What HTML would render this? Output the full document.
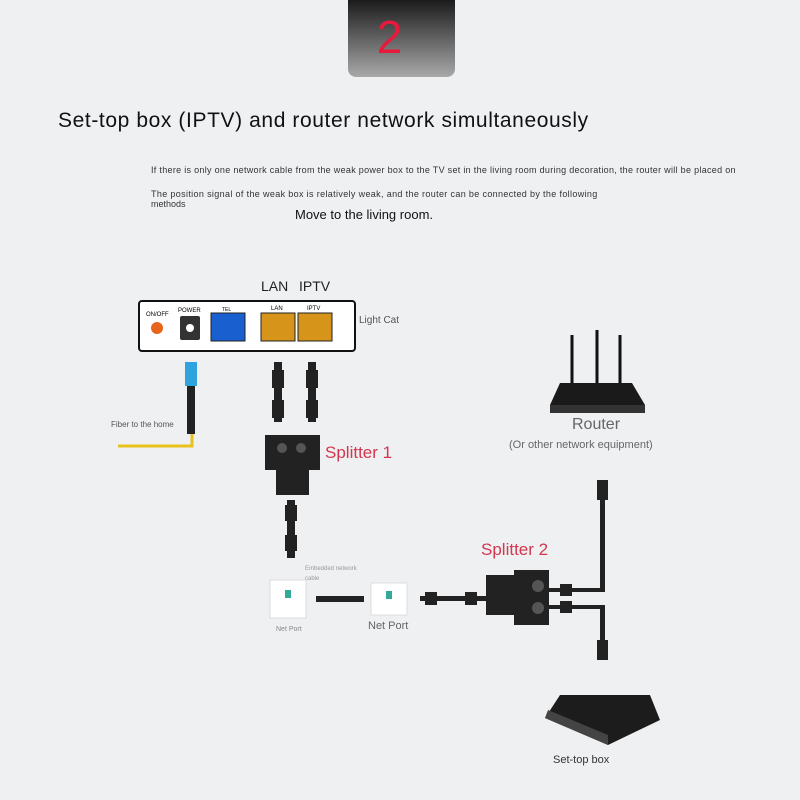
<!DOCTYPE html>
<html><head><meta charset="utf-8"><style>
body{margin:0;width:800px;height:800px;background:#eff0f2;position:relative;overflow:hidden;font-family:"Liberation Sans",sans-serif}
.t{position:absolute;white-space:nowrap}
</style></head><body>
<div style="position:absolute;left:348px;top:0;width:107px;height:77px;border-radius:0 0 8px 8px;background:linear-gradient(#1b1b1b,#a9a9a9)"></div>
<div class="t" style="left:348px;width:83px;text-align:center;top:10px;font-size:46px;color:#e8193c;padding-left:0">2</div>
<div class="t" style="left:58px;top:109px;font-size:21px;color:#111;letter-spacing:0.6px">Set-top box (IPTV) and router network simultaneously</div>
<div class="t" style="left:151px;top:165px;font-size:9px;color:#333;letter-spacing:0.3px">If there is only one network cable from the weak power box to the TV set in the living room during decoration, the router will be placed on</div>
<div class="t" style="left:151px;top:189px;font-size:9px;color:#333;letter-spacing:0.35px">The position signal of the weak box is relatively weak, and the router can be connected by the following</div>
<div class="t" style="left:151px;top:199px;font-size:9px;color:#333">methods</div>
<div class="t" style="left:295px;top:207px;font-size:13px;color:#111">Move to the living room.</div>
<div class="t" style="left:261px;top:278px;font-size:14px;color:#222">LAN</div>
<div class="t" style="left:299px;top:278px;font-size:14px;color:#222">IPTV</div>
<div class="t" style="left:359px;top:315px;font-size:10px;color:#555">Light Cat</div>
<div class="t" style="left:111px;top:420px;font-size:8px;color:#555">Fiber to the home</div>
<div class="t" style="left:325px;top:443px;font-size:17px;color:#d4354f">Splitter 1</div>
<div class="t" style="left:481px;top:540px;font-size:17px;color:#d4354f">Splitter 2</div>
<div class="t" style="left:572px;top:416px;font-size:16px;color:#666">Router</div>
<div class="t" style="left:509px;top:439px;font-size:11px;color:#666">(Or other network equipment)</div>
<div class="t" style="left:305px;top:566px;font-size:6px;color:#999">Embedded network</div>
<div class="t" style="left:305px;top:576px;font-size:6px;color:#999">cable</div>
<div class="t" style="left:368px;top:620px;font-size:11px;color:#666">Net Port</div>
<div class="t" style="left:276px;top:626px;font-size:7px;color:#888">Net Port</div>
<div class="t" style="left:553px;top:754px;font-size:11px;color:#333">Set-top box</div>
<svg width="800" height="800" style="position:absolute;left:0;top:0">
<rect x="139" y="301" width="216" height="50" rx="3" fill="#fff" stroke="#111" stroke-width="2"/>
<text x="146" y="316" font-size="6" font-family="Liberation Sans">ON/OFF</text>
<circle cx="157" cy="328" r="6" fill="#e8641c"/>
<text x="178" y="312" font-size="6" font-family="Liberation Sans">POWER</text>
<rect x="180" y="316" width="20" height="24" rx="2" fill="#333"/><circle cx="190" cy="328" r="4" fill="#fff"/>
<rect x="211" y="313" width="34" height="28" fill="#1a5fd0" stroke="#222"/>
<text x="222" y="311" font-size="5" font-family="Liberation Sans">TEL</text>
<rect x="261" y="313" width="34" height="28" fill="#d6941a" stroke="#222"/>
<rect x="298" y="313" width="34" height="28" fill="#d6941a" stroke="#222"/>
<text x="271" y="310" font-size="6" font-family="Liberation Sans">LAN</text>
<text x="307" y="310" font-size="6" font-family="Liberation Sans">IPTV</text>
<rect x="185" y="362" width="12" height="24" fill="#2ea3e0"/>
<rect x="187" y="386" width="8" height="48" fill="#222"/>
<polyline points="118,446 192,446 192,434" fill="none" stroke="#e8c21c" stroke-width="3"/>
<g fill="#222"><rect x="274" y="362" width="8" height="60"/><rect x="308" y="362" width="8" height="60"/>
<rect x="272" y="370" width="12" height="18"/><rect x="306" y="370" width="12" height="18"/>
<rect x="272" y="400" width="12" height="18"/><rect x="306" y="400" width="12" height="18"/>
<rect x="265" y="435" width="55" height="35"/><rect x="276" y="465" width="33" height="30"/>
<rect x="287" y="500" width="8" height="58"/><rect x="285" y="505" width="12" height="16"/><rect x="285" y="535" width="12" height="16"/>
<rect x="316" y="596" width="48" height="6"/>
<rect x="420" y="596" width="70" height="5"/><rect x="425" y="592" width="12" height="13"/><rect x="465" y="592" width="12" height="13"/>
<rect x="486" y="575" width="28" height="40"/><rect x="514" y="570" width="35" height="55"/>
<rect x="549" y="588" width="55" height="4"/><rect x="600" y="480" width="5" height="112"/><rect x="597" y="480" width="11" height="20"/>
<rect x="549" y="605" width="55" height="4"/><rect x="600" y="605" width="5" height="50"/><rect x="597" y="640" width="11" height="20"/>
<rect x="560" y="584" width="12" height="12"/><rect x="560" y="601" width="12" height="12"/></g>
<circle cx="282" cy="448" r="5" fill="#555"/><circle cx="301" cy="448" r="5" fill="#555"/>
<circle cx="538" cy="586" r="6" fill="#555"/><circle cx="538" cy="608" r="6" fill="#555"/>
<rect x="270" y="580" width="36" height="38" fill="#fff" stroke="#ddd"/><rect x="285" y="590" width="6" height="8" fill="#3a9"/>
<rect x="371" y="583" width="36" height="32" fill="#fff" stroke="#ddd"/><rect x="386" y="591" width="6" height="8" fill="#3a9"/>
<g stroke="#111" stroke-width="3"><line x1="572" y1="335" x2="572" y2="385"/><line x1="597" y1="330" x2="597" y2="385"/><line x1="620" y1="335" x2="620" y2="385"/></g>
<path d="M560 383 L632 383 L645 405 L550 405 Z" fill="#1a1a1a"/><rect x="550" y="405" width="95" height="8" fill="#333"/>
<path d="M560 695 L650 695 L660 720 L608 745 L545 718 Z" fill="#1c1c1c"/><path d="M545 718 L608 745 L608 735 L548 710Z" fill="#444"/>
</svg>
</body></html>
